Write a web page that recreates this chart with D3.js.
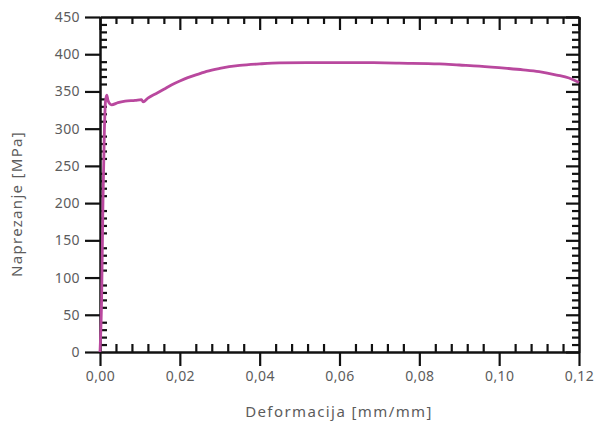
<!DOCTYPE html>
<html><head><meta charset="utf-8">
<script src="https://cdn.jsdelivr.net/npm/d3@7"></script>
<style>body{margin:0;background:#fff}</style>
</head><body>
<svg id="c" width="594" height="421"></svg>
<script>
const strain = [0, 0.0004, 0.00075, 0.0011, 0.0014, 0.0017, 0.002, 0.0025, 0.0029, 0.0045, 0.0063, 0.0088, 0.0104, 0.0108, 0.012, 0.014, 0.016, 0.018, 0.02, 0.022, 0.025, 0.0267, 0.03, 0.035, 0.04, 0.045, 0.0518, 0.06, 0.0685, 0.075, 0.085, 0.09, 0.095, 0.102, 0.106, 0.110, 0.1144, 0.1175, 0.12];
const stress = [0, 70, 204, 298, 338, 345, 338, 333, 332, 335, 337, 338, 339, 336, 341, 347, 353, 359, 364, 368.5, 374, 377, 381, 385, 387, 388.3, 388.6, 388.8, 388.6, 388, 387, 385.5, 384, 381, 379, 376.5, 372, 368, 362];
const xTicks = [0, 0.02, 0.04, 0.06, 0.08, 0.10, 0.12];
const yTicks = [0, 50, 100, 150, 200, 250, 300, 350, 400, 450];
const xLabel = "Deformacija [mm/mm]";
const yLabel = "Naprezanje [MPa]";

const svg = d3.select("#c");
const L = 100, R = 579, T = 17, B = 352;
const x = d3.scaleLinear().domain([0, 0.12]).range([L, R]);
const y = d3.scaleLinear().domain([0, 450]).range([B, T]);
const fmt = d => d3.format(".2f")(d).replace(".", ",");
const font = "'Noto Sans', 'Open Sans', sans-serif";
const labCol = "#5c5c5c";

const xMinor = d3.range(0, 0.12001, 0.004).filter(v => !xTicks.some(t => Math.abs(t - v) < 1e-6));
const yMinor = d3.range(0, 450.01, 10).filter(v => !yTicks.some(t => Math.abs(t - v) < 1e-6));

function style(g) {
  g.selectAll("path.domain").attr("stroke", "#111").attr("stroke-width", 2.5);
  g.selectAll("line").attr("stroke", "#111").attr("stroke-width", 2.2);
  g.selectAll("text").attr("fill", labCol).style("font-family", font).style("font-size", "14px").style("letter-spacing", "0.4px");
}

// bottom
const gb = svg.append("g").attr("transform", `translate(0,${B})`);
gb.call(d3.axisBottom(x).tickValues(xTicks).tickFormat(fmt).tickSizeInner(14).tickSizeOuter(0).tickPadding(5));
gb.append("g").call(d3.axisTop(x).tickValues(xMinor).tickSizeInner(8).tickSizeOuter(0).tickFormat("")).select("path.domain").remove();
style(gb);
// left
const gl = svg.append("g").attr("transform", `translate(${L},0)`);
gl.call(d3.axisLeft(y).tickValues(yTicks).tickSizeInner(15).tickSizeOuter(0).tickPadding(5));
gl.append("g").call(d3.axisRight(y).tickValues(yMinor).tickSizeInner(7).tickSizeOuter(0).tickFormat("")).select("path.domain").remove();
style(gl);
// top
const gt = svg.append("g").attr("transform", `translate(0,${T})`);
gt.call(d3.axisBottom(x).tickValues(xTicks).tickSizeInner(13).tickSizeOuter(0).tickFormat(""));
gt.append("g").call(d3.axisBottom(x).tickValues(xMinor).tickSizeInner(7).tickSizeOuter(0).tickFormat("")).select("path.domain").remove();
style(gt);
// right
const gr = svg.append("g").attr("transform", `translate(${R},0)`);
gr.call(d3.axisLeft(y).tickValues(yTicks).tickSizeInner(13).tickSizeOuter(0).tickFormat(""));
gr.append("g").call(d3.axisLeft(y).tickValues(yMinor).tickSizeInner(7).tickSizeOuter(0).tickFormat("")).select("path.domain").remove();
style(gr);

// curve
const pts = strain.map((s, i) => [s, stress[i]]);
svg.append("path").datum(pts)
  .attr("fill", "none").attr("stroke", "#b9489e").attr("stroke-width", 2.8)
  .attr("stroke-linejoin", "round")
  .attr("d", d3.line().x(d => x(d[0])).y(d => y(d[1])).curve(d3.curveMonotoneX));

svg.append("text").attr("x", 339).attr("y", 417).attr("text-anchor", "middle")
  .attr("fill", labCol).style("font-family", font).style("font-size", "15px").style("letter-spacing", "1.4px").text(xLabel);
svg.append("text").attr("transform", `translate(22,204) rotate(-90)`).attr("text-anchor", "middle")
  .attr("fill", labCol).style("font-family", font).style("font-size", "15px").style("letter-spacing", "1.3px").text(yLabel);
</script>
</body></html>
